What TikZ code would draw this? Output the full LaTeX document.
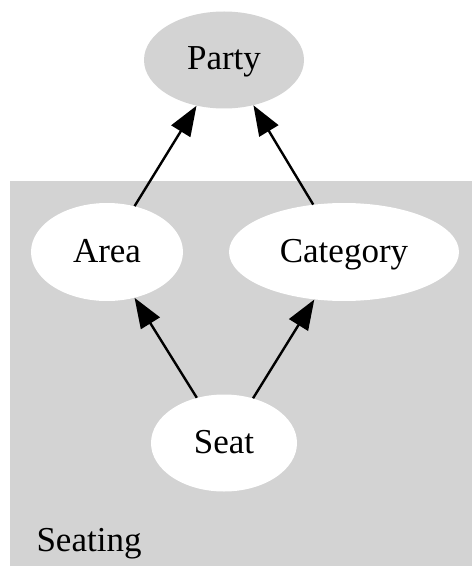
\documentclass[tikz,border=0pt]{standalone}
\usepackage{fontspec}
\setmainfont{Liberation Serif}
\usetikzlibrary{shapes.geometric,arrows.meta}
\definecolor{lgray}{HTML}{D3D3D3}
\begin{document}
\begin{tikzpicture}[x=1pt,y=-1pt,
  gnode/.style={ellipse,inner sep=0pt,font=\fontsize{35}{40}\selectfont,text height=25pt,text depth=5pt},
  edge/.style={line width=2.4pt,-{Triangle[length=30pt,width=22pt]}}]
\useasboundingbox (0,0) rectangle (474,569);
\fill[lgray] (10,181) rectangle (472,566);
\node[anchor=base west,font=\fontsize{35}{40}\selectfont] (seating) at (33,551) {Seating};
\node[gnode,fill=lgray,minimum width=160pt,minimum height=97pt] (party) at (224,60) {Party};
\node[gnode,fill=white,minimum width=152pt,minimum height=98pt] (area) at (107,252) {Area};
\node[gnode,fill=white,minimum width=230pt,minimum height=98pt] (category) at (344,252) {Category};
\node[gnode,fill=white,minimum width=146pt,minimum height=97pt] (seat) at (224,443) {Seat};
\draw[edge] (area.59) -- (party.239);
\draw[edge] (category.123) -- (party.303);
\draw[edge] (seat.121) -- (area.301);
\draw[edge] (seat.57) -- (category.238);
\end{tikzpicture}
\end{document}
